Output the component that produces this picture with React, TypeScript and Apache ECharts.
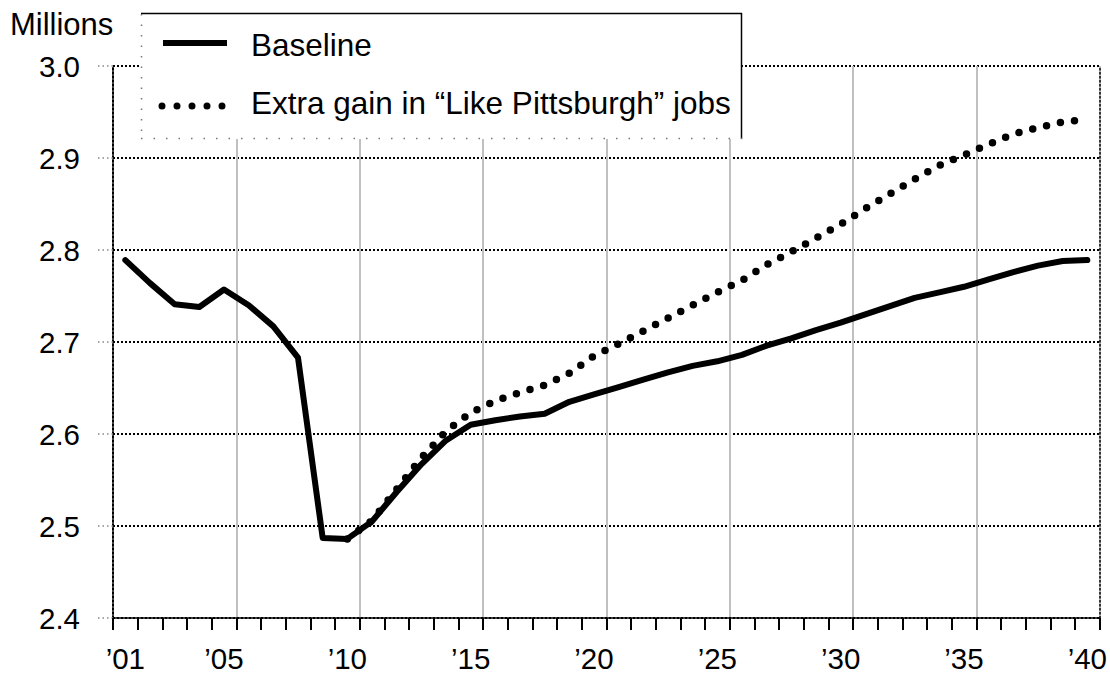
import React, { useEffect, useRef } from "react";
import * as echarts from "echarts";

const years = [
  2001, 2002, 2003, 2004, 2005, 2006, 2007, 2008, 2009, 2010,
  2011, 2012, 2013, 2014, 2015, 2016, 2017, 2018, 2019, 2020,
  2021, 2022, 2023, 2024, 2025, 2026, 2027, 2028, 2029, 2030,
  2031, 2032, 2033, 2034, 2035, 2036, 2037, 2038, 2039, 2040,
];

const baseline = [
  2.789, 2.764, 2.741, 2.738, 2.757, 2.740, 2.717, 2.683, 2.487, 2.486,
  2.505, 2.537, 2.567, 2.593, 2.610, 2.615, 2.619, 2.622, 2.635, 2.643,
  2.651, 2.659, 2.667, 2.674, 2.679, 2.686, 2.696, 2.704, 2.713, 2.721,
  2.730, 2.739, 2.748, 2.754, 2.760, 2.768, 2.776, 2.783, 2.788, 2.789,
];

const extraGain = [
  null, null, null, null, null, null, null, null, null, 2.486,
  2.506, 2.540, 2.574, 2.603, 2.623, 2.636, 2.645, 2.653, 2.666, 2.685,
  2.698, 2.712, 2.726, 2.740, 2.754, 2.767, 2.784, 2.798, 2.813, 2.828,
  2.845, 2.861, 2.877, 2.892, 2.903, 2.915, 2.926, 2.933, 2.939, 2.942,
];

const seriesNames = ["Baseline", "Extra gain in \u201CLike Pittsburgh\u201D jobs"];
const unitLabel = "Millions";
const yMin = 2.4;
const yMax = 3.0;
const yStep = 0.1;

const FONT = '"Liberation Sans", Arial, sans-serif';

export default function App() {
  const ref = useRef<HTMLDivElement>(null);

  useEffect(() => {
    if (!ref.current) return;
    const chart = echarts.init(ref.current, null, { renderer: "svg" });
    const Z = 100;
    const option: any = {
      animation: false,
      backgroundColor: "#fff",
      textStyle: { fontFamily: FONT },
      grid: { left: 113, right: 10, top: 66, bottom: 59, containLabel: false },
      xAxis: {
        type: "category",
        data: years.map(String),
        boundaryGap: true,
        axisLine: { show: true, lineStyle: { color: "#000", width: 2, type: [2, 2] } },
        axisTick: {
          show: true,
          interval: 0,
          length: 12,
          lineStyle: { color: "#000", width: 2 },
        },
        axisLabel: {
          interval: (i: number) => i === 0 || (i + 1) % 5 === 0,
          formatter: (v: string) => "\u2019" + v.slice(2),
          fontSize: 29.5,
          color: "#000",
          fontFamily: FONT,
          margin: 25,
        },
        splitLine: {
          show: true,
          interval: (i: number) => i > 0 && i < years.length && i % 5 === 0,
          lineStyle: { color: "#c0c0c0", width: 2 },
        },
      },
      yAxis: [
        {
          type: "value",
          min: yMin,
          max: yMax,
          interval: yStep,
          axisLine: { show: true, lineStyle: { color: "#000", width: 2, type: [2, 2] } },
          axisTick: {
            show: true,
            length: 16,
            lineStyle: { color: "#888", width: 1.5, type: [1.5, 3] },
          },
          axisLabel: {
            formatter: (v: number) => v.toFixed(1),
            fontSize: 29.5,
            color: "#000",
            fontFamily: FONT,
            margin: 33,
          },
          splitLine: {
            show: true,
            lineStyle: { color: "#000", width: 2, type: [2, 2] },
          },
        },
        {
          type: "value",
          min: yMin,
          max: yMax,
          interval: yStep,
          position: "right",
          axisLine: { show: true, lineStyle: { color: "#000", width: 1.5, type: [1.5, 2.5] } },
          axisTick: { show: false },
          axisLabel: { show: false },
          splitLine: { show: false },
        },
      ],
      series: [
        {
          name: seriesNames[0],
          type: "line",
          data: baseline,
          symbol: "none",
          z: 5,
          lineStyle: { color: "#000", width: 6, cap: "round", join: "round" },
        },
        {
          name: seriesNames[1],
          type: "line",
          data: extraGain,
          symbol: "none",
          connectNulls: false,
          z: 4,
          lineStyle: { color: "#000", width: 7.5, type: [0, 14.2], cap: "round", join: "round" },
        },
      ],
      graphic: [
        {
          type: "text",
          x: 10,
          y: 24,
          z: Z,
          style: {
            text: unitLabel,
            fontSize: 31,
            fontFamily: FONT,
            fill: "#000",
            verticalAlign: "middle",
          },
        },
        {
          type: "rect",
          z: Z,
          shape: { x: 141, y: 13, width: 601, height: 126 },
          style: { fill: "#ffffff" },
        },
        {
          type: "line",
          z: Z + 1,
          shape: { x1: 141, y1: 13.5, x2: 742, y2: 13.5 },
          style: { stroke: "#000", lineWidth: 1.5 },
        },
        {
          type: "line",
          z: Z + 1,
          shape: { x1: 741.5, y1: 13, x2: 741.5, y2: 139 },
          style: { stroke: "#000", lineWidth: 1.5 },
        },
        {
          type: "line",
          z: Z + 1,
          shape: { x1: 141.5, y1: 14, x2: 141.5, y2: 139 },
          style: { stroke: "#777", lineWidth: 1.5, lineDash: [1.5, 9] },
        },
        {
          type: "line",
          z: Z + 1,
          shape: { x1: 141, y1: 138.5, x2: 742, y2: 138.5 },
          style: { stroke: "#777", lineWidth: 1.5, lineDash: [1.5, 11] },
        },
        {
          type: "line",
          z: Z + 1,
          shape: { x1: 163, y1: 43, x2: 227, y2: 43 },
          style: { stroke: "#000", lineWidth: 6 },
        },
        {
          type: "line",
          z: Z + 1,
          shape: { x1: 162, y1: 106, x2: 223, y2: 106 },
          style: { stroke: "#000", lineWidth: 7, lineDash: [0, 15], lineCap: "round" },
        },
        {
          type: "text",
          z: Z + 1,
          x: 251,
          y: 45,
          style: {
            text: seriesNames[0],
            fontSize: 31.5,
            fontFamily: FONT,
            fill: "#000",
            verticalAlign: "middle",
          },
        },
        {
          type: "text",
          z: Z + 1,
          x: 251,
          y: 103,
          style: {
            text: seriesNames[1],
            fontSize: 31.5,
            fontFamily: FONT,
            fill: "#000",
            verticalAlign: "middle",
          },
        },
      ],
    };
    chart.setOption(option);
    return () => chart.dispose();
  }, []);

  return (
    <div
      ref={ref}
      style={{ position: "fixed", left: 0, top: 0, width: 1110, height: 677, background: "#fff" }}
    />
  );
}
